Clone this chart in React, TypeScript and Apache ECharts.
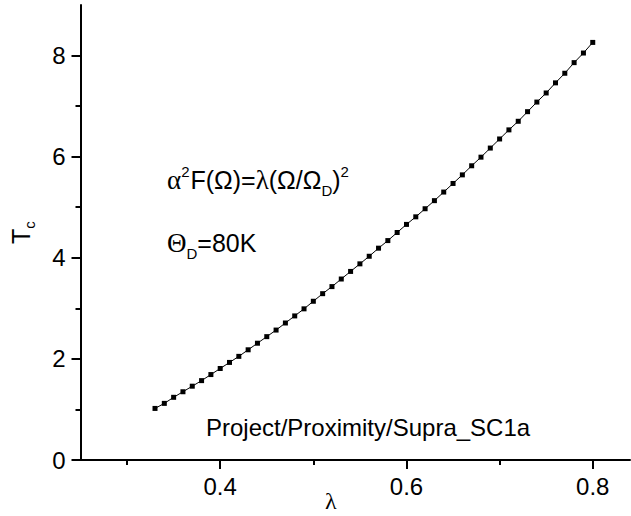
import React, { useEffect, useRef } from "react";
import * as echarts from "echarts";

const lambdaValues = [
  0.33, 0.34, 0.35, 0.36, 0.37, 0.38, 0.39, 0.40, 0.41, 0.42, 0.43, 0.44,
  0.45, 0.46, 0.47, 0.48, 0.49, 0.50, 0.51, 0.52, 0.53, 0.54, 0.55, 0.56,
  0.57, 0.58, 0.59, 0.60, 0.61, 0.62, 0.63, 0.64, 0.65, 0.66, 0.67, 0.68,
  0.69, 0.70, 0.71, 0.72, 0.73, 0.74, 0.75, 0.76, 0.77, 0.78, 0.79, 0.80,
];
const tcValues = [
  1.02, 1.12, 1.24, 1.35, 1.46, 1.57, 1.69, 1.81, 1.93, 2.05, 2.18, 2.31,
  2.44, 2.57, 2.71, 2.85, 2.99, 3.14, 3.29, 3.43, 3.58, 3.73, 3.88, 4.03,
  4.19, 4.34, 4.50, 4.66, 4.81, 4.97, 5.13, 5.30, 5.47, 5.64, 5.82, 5.99,
  6.17, 6.35, 6.53, 6.70, 6.89, 7.08, 7.26, 7.46, 7.65, 7.86, 8.05, 8.26,
];
const xMajorTicks = [0.4, 0.6, 0.8];
const xMinorTicks = [0.3, 0.5, 0.7];
const yMajorTicks = [0, 2, 4, 6, 8];
const yMinorTicks = [1, 3, 5, 7];
const formulaLabel = "{g|α}{sup|2}{n|F(Ω)=}{g|λ}{n|(Ω/Ω}{sub|D}{n|)}{sup|2}";
const debyeLabel = "{g|Θ}{sub|D}{n|=80K}";
const projectLabel = "Project/Proximity/Supra_SC1a";
const xName = "λ";

const SANS = "'Liberation Sans', Arial, sans-serif";
const SERIF = "'Liberation Serif', 'Times New Roman', serif";
const FS = 24;

export default function App() {
  const ref = useRef<HTMLDivElement>(null);
  useEffect(() => {
    if (!ref.current) return;
    const chart = echarts.init(ref.current, undefined, { renderer: "svg" });
    const axisLineStyle = { color: "#000", width: 2 };
    const richStyles = {
      n: { fontFamily: SANS, fontSize: 25, fill: "#000", color: "#000", lineHeight: 36, verticalAlign: "middle" },
      g: { fontFamily: SERIF, fontSize: 27, fill: "#000", color: "#000", lineHeight: 36, verticalAlign: "middle" },
      sup: { fontFamily: SANS, fontSize: 15, fill: "#000", color: "#000", lineHeight: 36, verticalAlign: "top", padding: [2, 1, 0, 0] },
      sub: { fontFamily: SANS, fontSize: 15, fill: "#000", color: "#000", lineHeight: 36, verticalAlign: "bottom", padding: [0, 0, 0, 0] },
    };
    chart.setOption({
      animation: false,
      backgroundColor: "#fff",
      grid: { left: 78, top: 5, width: 552, height: 455, containLabel: false },
      xAxis: [
        {
          type: "value",
          min: 0.25,
          max: 0.84,
          axisLine: { show: true, lineStyle: axisLineStyle, onZero: false },
          axisTick: { show: true, inside: false, length: 9, lineStyle: axisLineStyle, customValues: xMajorTicks },
          axisLabel: {
            show: true,
            customValues: xMajorTicks,
            fontFamily: SANS,
            fontSize: FS,
            color: "#000",
            margin: 14,
            formatter: (v: number) => v.toFixed(1),
          },
          splitLine: { show: false },
        },
        {
          type: "value",
          position: "bottom",
          min: 0.25,
          max: 0.84,
          axisLine: { show: false },
          axisTick: { show: true, inside: false, length: 5, lineStyle: axisLineStyle, customValues: xMinorTicks },
          axisLabel: { show: false },
          splitLine: { show: false },
        },
      ],
      yAxis: [
        {
          type: "value",
          min: 0,
          max: 9,
          name: "T{sub|c}",
          nameLocation: "middle",
          nameGap: 44,
          nameTextStyle: {
            fontFamily: SANS,
            fontSize: 25,
            color: "#000",
            rich: {
              sub: { fontFamily: SANS, fontSize: 15, color: "#000", verticalAlign: "bottom", lineHeight: 32 },
            },
          },
          axisLine: { show: true, lineStyle: axisLineStyle, onZero: false },
          axisTick: { show: true, inside: false, length: 9, lineStyle: axisLineStyle, customValues: yMajorTicks },
          axisLabel: {
            show: true,
            customValues: yMajorTicks,
            fontFamily: SANS,
            fontSize: FS,
            color: "#000",
            margin: 15,
          },
          splitLine: { show: false },
        },
        {
          type: "value",
          position: "left",
          min: 0,
          max: 9,
          axisLine: { show: false },
          axisTick: { show: true, inside: false, length: 5, lineStyle: axisLineStyle, customValues: yMinorTicks },
          axisLabel: { show: false },
          splitLine: { show: false },
        },
      ],
      graphic: [
        {
          type: "text",
          left: 167,
          top: 162,
          style: { text: formulaLabel, rich: richStyles as any },
        },
        {
          type: "text",
          left: 167,
          top: 229,
          style: { text: debyeLabel, rich: richStyles as any },
        },
        {
          type: "text",
          left: 206,
          top: 415,
          style: { text: projectLabel, fontFamily: SANS, fontSize: FS, fill: "#000" },
        },
        {
          type: "text",
          left: 325,
          top: 489,
          style: { text: xName, fontFamily: SERIF, fontSize: FS, fill: "#000" },
        },
      ],
      series: [
        {
          type: "line",
          xAxisIndex: 0,
          yAxisIndex: 0,
          data: lambdaValues.map((x, i) => [x, tcValues[i]]),
          symbol: "rect",
          symbolSize: 5,
          showSymbol: true,
          lineStyle: { color: "#000", width: 1 },
          itemStyle: { color: "#000" },
          silent: true,
        },
      ],
    });
    return () => chart.dispose();
  }, []);
  return (
    <div
      ref={ref}
      style={{ position: "absolute", left: 0, top: 0, width: 631, height: 516, background: "#fff" }}
    />
  );
}
